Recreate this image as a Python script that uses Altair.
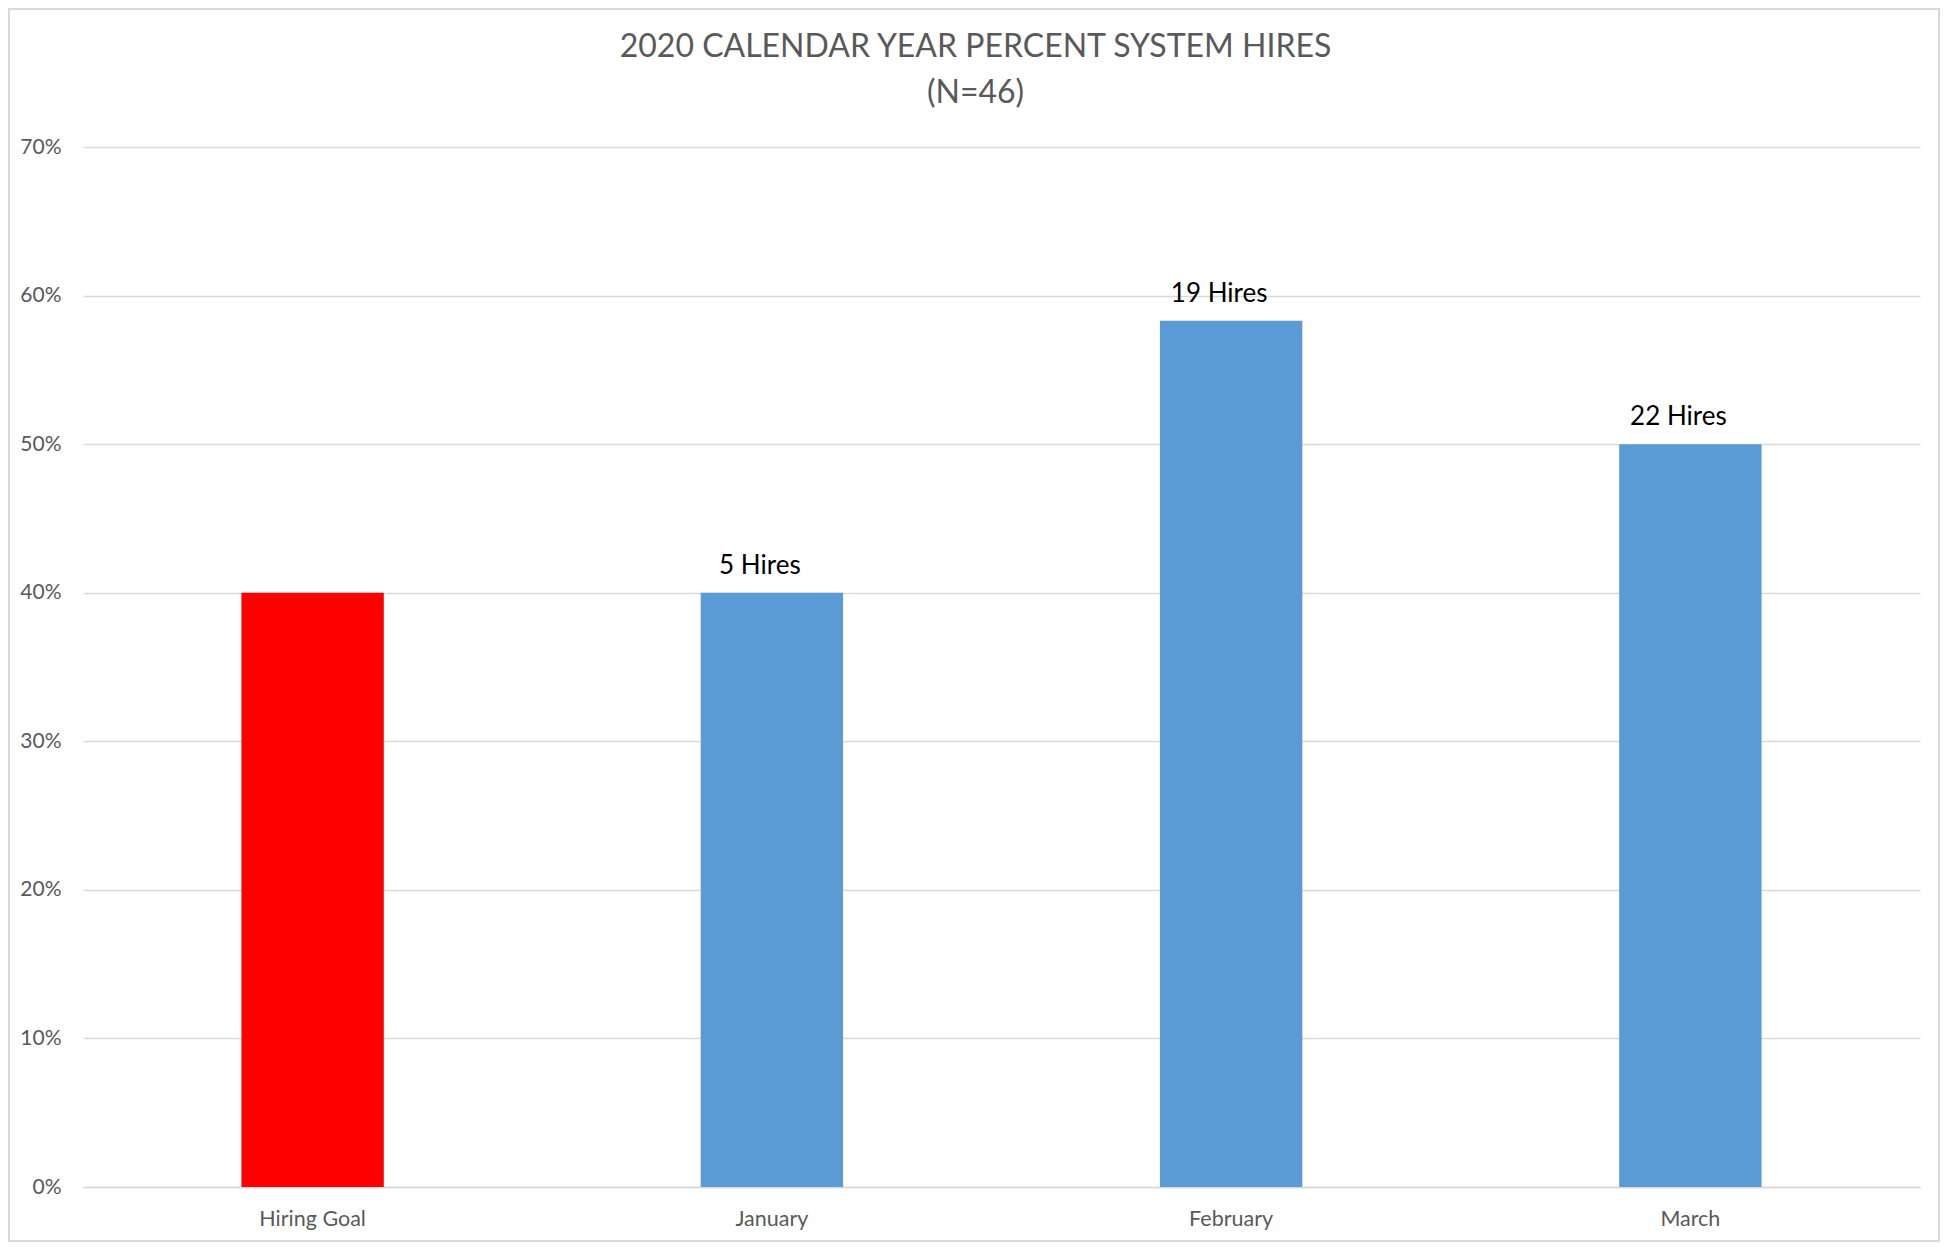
import altair as alt
import pandas as pd

categories = ["Hiring Goal", "January", "February", "March"]
percents = [0.40, 0.40, 0.583, 0.50]
labels = ["", "5 Hires", "19 Hires", "22 Hires"]
colors = ["#FF0000", "#5B9BD5", "#5B9BD5", "#5B9BD5"]

df = pd.DataFrame({"cat": categories, "pct": percents, "label": labels, "color": colors})

W, H = 1837, 1040
FONT = "Lato"

x_enc = alt.X("cat:N", sort=categories,
              scale=alt.Scale(paddingInner=0.69, paddingOuter=0.345),
              axis=alt.Axis(title=None, labelAngle=0, labelFontSize=21.5, labelColor="#595959",
                            labelFont=FONT, labelPadding=21, ticks=False,
                            domainColor="#d9d9d9", domainWidth=1.5))
y_enc = alt.Y("pct:Q", scale=alt.Scale(domain=[0, 0.7], nice=False),
              axis=alt.Axis(title=None, format=".0%", values=[0, 0.1, 0.2, 0.3, 0.4, 0.5, 0.6, 0.7],
                            labelFontSize=21, labelColor="#595959", labelFont=FONT,
                            labelPadding=22, ticks=False, domain=False,
                            gridColor="#d9d9d9", gridWidth=1.5))

bars = alt.Chart(df).mark_bar().encode(
    x=x_enc, y=y_enc, color=alt.Color("color:N", scale=None)
)

text = alt.Chart(df).mark_text(fontSize=26, font=FONT, color="#000000",
                               baseline="alphabetic", dy=-19, dx=-12).encode(
    x=alt.X("cat:N", sort=categories), y="pct:Q", text="label:N"
)

frame = alt.Chart(pd.DataFrame({"a": [0]})).mark_rect(fill=None, stroke="#d9d9d9", strokeWidth=2).encode(
    x=alt.value(-74), x2=alt.value(W + 19), y=alt.value(-138), y2=alt.value(H + 54)
)

chart = alt.layer(frame, bars, text).properties(
    width=W, height=H,
    title=alt.TitleParams(["2020 CALENDAR YEAR PERCENT SYSTEM HIRES", "(N=46)"],
                          fontSize=32, font=FONT, fontWeight="normal", color="#595959",
                          anchor="middle", dx=-26, offset=-102, lineHeight=46),
    padding={"left": 75, "top": 139, "right": 20, "bottom": 56},
    autosize=alt.AutoSizeParams(type="none"),
).configure(background="white").configure_view(stroke=None, strokeWidth=0)

chart.save("out.html", embed_options={"renderer": "svg", "actions": False})
